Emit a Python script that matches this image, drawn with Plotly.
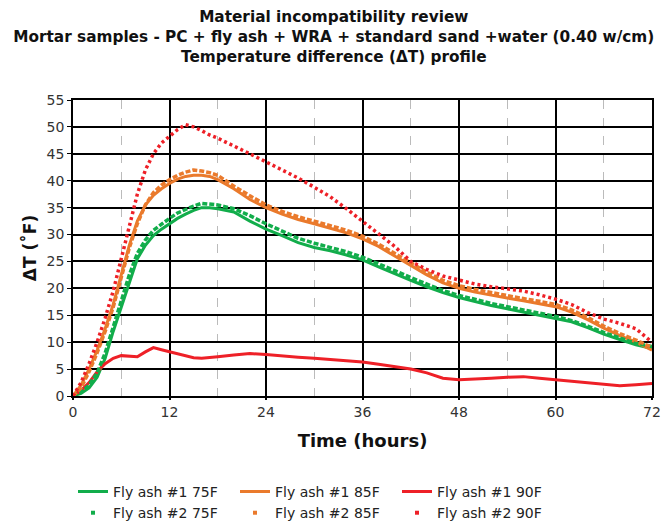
import plotly.graph_objects as go

# ---- data ----
time_h = [0, 1, 2, 3, 4, 5, 6, 7, 8, 9, 10, 11, 12, 13, 14, 15, 16, 17, 18, 20, 22, 24,
          26, 28, 30, 32, 34, 36, 38, 40, 42, 44, 46, 48, 50, 52, 54, 56, 58, 60, 62,
          64, 66, 68, 70, 72]

fa1_75 = [0, 0.5, 1.5, 3.5, 7, 12, 16.5, 21, 25.5, 28, 29.8, 31, 32, 33, 33.8, 34.5, 35, 35,
          34.8, 34.2, 32.5, 31, 29.8, 28.5, 27.6, 27, 26.2, 25.3, 24, 22.7, 21.5, 20.3,
          19.2, 18.3, 17.5, 16.8, 16.2, 15.6, 15, 14.5, 13.8, 12.7, 11.5, 10.5, 9.5, 8.8]
fa2_75 = [0, 0.7, 2, 4.3, 8, 13, 18, 22.5, 26.5, 29, 30.8, 32, 33, 34, 34.7, 35.3, 35.8, 35.7,
          35.5, 34.8, 33.5, 32, 30.6, 29.3, 28.4, 27.6, 26.8, 25.8, 24.6, 23.3, 22, 20.8,
          19.6, 18.7, 17.9, 17.2, 16.6, 16, 15.4, 14.8, 14, 13, 11.8, 10.8, 9.8, 9.2]
fa1_85 = [0, 2, 5, 8.5, 12.5, 17, 22.5, 28, 32.5, 35.5, 37.3, 38.5, 39.5, 40.3, 40.8, 41, 41,
          40.8, 40.2, 38.5, 36.5, 35, 33.8, 32.8, 32, 31.2, 30.3, 29.2, 27.8, 26, 24.3,
          22.5, 21, 20, 19.3, 18.7, 18.2, 17.7, 17.2, 16.6, 15.6, 14.2, 12.6, 11.2, 10, 8.5]
fa2_85 = [0, 1.5, 4.5, 8, 12, 16.5, 22, 27.5, 32, 35.5, 37.8, 39.2, 40.2, 41, 41.6, 42, 41.8,
          41.5, 41, 39, 37.2, 35.5, 34.3, 33.3, 32.5, 31.7, 30.8, 29.7, 28.2, 26.5, 24.8,
          23, 21.5, 20.5, 19.8, 19.2, 18.6, 18.1, 17.6, 17, 16, 14.6, 13, 11.6, 10.4, 9]
fa1_90 = [0, 1, 2.5, 4.5, 6, 7, 7.5, 7.4, 7.3, 8.2, 9, 8.6, 8.2, 7.8, 7.4, 7.1, 7, 7.1, 7.3,
          7.6, 7.9, 7.7, 7.4, 7.2, 7, 6.8, 6.6, 6.3, 5.9, 5.5, 5, 4.3, 3.3, 3, 3.1, 3.3,
          3.5, 3.6, 3.3, 3, 2.7, 2.4, 2.1, 1.9, 2.1, 2.3]
fa2_90 = [0, 2.5, 6, 10, 14.5, 19.5, 25.5, 31.5, 37.5, 42, 45, 47, 48.3, 49.5, 50.4, 50, 49.3,
          48.5, 47.9, 46.5, 45, 43.5, 42, 40.5, 38.8, 37, 34.8, 32.5, 30.2, 27.8, 25, 23.5,
          22.3, 21.5, 20.8, 20.3, 19.9, 19.5, 18.8, 18, 17, 15.5, 14.3, 13.5, 12.5, 10]

x_ticks = [0, 12, 24, 36, 48, 60, 72]
y_ticks = [0, 5, 10, 15, 20, 25, 30, 35, 40, 45, 50, 55]

GREEN = "#12AD4B"
ORANGE = "#EA7A2C"
RED = "#EE2027"
FONT = "DejaVu Sans"

fig = go.Figure()

solid = [("Fly ash #1 75F", fa1_75, GREEN), ("Fly ash #1 85F", fa1_85, ORANGE),
         ("Fly ash #1 90F", fa1_90, RED)]
dotted = [("Fly ash #2 75F", fa2_75, GREEN, "5px,2px"), ("Fly ash #2 85F", fa2_85, ORANGE, "5px,2px"),
          ("Fly ash #2 90F", fa2_90, RED, "3px,3px")]

for name, ys, c in solid:
    fig.add_trace(go.Scatter(x=time_h, y=ys, mode="lines", name=name,
                             line=dict(color=c, width=3)))
for name, ys, c, d in dotted:
    fig.add_trace(go.Scatter(x=time_h, y=ys, mode="lines", name=name, showlegend=False,
                             line=dict(color=c, width=3.5, dash=d)))
for name, ys, c, d in dotted:
    fig.add_trace(go.Scatter(x=[None], y=[None], mode="markers", name=name,
                             marker=dict(color=c, size=4, symbol="square")))

fig.update_layout(
    width=661, height=523,
    margin=dict(l=73, r=9, t=100, b=127, autoexpand=False),
    paper_bgcolor="white", plot_bgcolor="white",
    font=dict(family=FONT, color="#222", size=14),
    title=dict(
        text="<b>Material incompatibility review<br>Mortar samples - PC + fly ash + WRA + standard sand +water (0.40 w/cm)<br>Temperature difference (ΔT) profile</b>",
        x=0.505, xref="container", xanchor="center", yref="container", y=0.958, yanchor="middle",
        font=dict(size=15.3, color="#111")),
    showlegend=True,
    legend=dict(orientation="h", x=0.0, xanchor="left", y=-0.27, yanchor="top",
                entrywidth=117, font=dict(size=14, color="#222"),
                itemwidth=30, tracegroupgap=0, bgcolor="rgba(0,0,0,0)"),
)

fig.update_xaxes(
    range=[0, 72], tickvals=x_ticks, ticktext=[str(v) for v in x_ticks],
    showgrid=True, gridcolor="black", gridwidth=1.5,
    minor=dict(dtick=6, tick0=0, showgrid=True, gridcolor="#BBBBBB", griddash="dash", gridwidth=1),
    showline=True, linecolor="black", linewidth=1.5, mirror=True,
    ticks="outside", ticklen=2, tickcolor="black", tickwidth=1.5,
    tickfont=dict(size=14, color="#333"), zeroline=False,
    title=dict(text="<b>Time (hours)</b>", font=dict(size=18, color="#111"), standoff=16),
)
fig.update_yaxes(
    range=[0, 55], tickvals=y_ticks, ticktext=[str(v) for v in y_ticks],
    showgrid=True, gridcolor="black", gridwidth=1.5,
    showline=True, linecolor="black", linewidth=1.5, mirror=True,
    ticks="outside", ticklen=4, tickcolor="black", tickfont=dict(size=14, color="#333"),
    zeroline=False,
    title=dict(text="<b>ΔT (˚F)</b>", font=dict(size=17, color="#111"), standoff=6),
)

fig.write_html("out.html")
